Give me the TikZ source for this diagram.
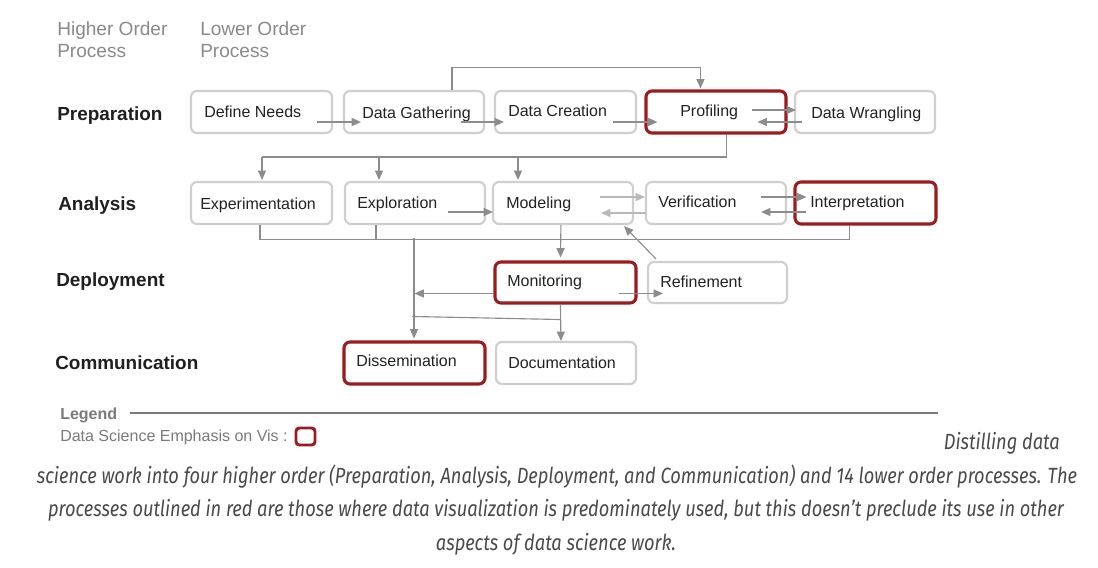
\documentclass[tikz,border=0pt]{standalone}
\usepackage{fontspec}
\setmainfont{Liberation Sans}
\newfontfamily\capfont[FakeStretch=0.83]{Fira Sans}
\usetikzlibrary{arrows.meta,calc,fit}
\definecolor{boxgray}{HTML}{CFCFCF}
\definecolor{emred}{HTML}{9B1B1E}
\definecolor{arrgray}{HTML}{8C8C8C}
\definecolor{arrlight}{HTML}{B8B8B8}
\definecolor{txt}{HTML}{222222}
\definecolor{hdrgray}{HTML}{8A8A8A}
\definecolor{leggray}{HTML}{7A7A7A}
\definecolor{captxt}{HTML}{4A4A4A}
\tikzset{
  gbox/.style={draw=boxgray, line width=1.6pt, rounded corners=4.5pt, inner sep=0pt},
  rbox/.style={draw=emred, line width=2.3pt, rounded corners=4.5pt, inner sep=0pt},
  lbl/.style={inner sep=0pt, text=txt, font=\fontsize{12}{14}\selectfont, anchor=base west},
  hdr/.style={inner sep=0pt, text=black!88, font=\fontsize{14.2}{17}\selectfont\bfseries, anchor=base west},
  toplbl/.style={inner sep=0pt, text=hdrgray, font=\fontsize{14.3}{17}\selectfont, anchor=base west},
  conn/.style={draw=arrgray, line width=0.85pt},
  arr/.style={conn, -{Triangle[length=7pt,width=6pt]}},
  arrl/.style={draw=arrlight, line width=0.85pt, -{Triangle[length=7pt,width=6pt]}},
  capline/.style={inner sep=0pt, text=captxt, font=\capfont\itshape\fontsize{16.5}{19}\selectfont},
}
\begin{document}
\begin{tikzpicture}[x=0.75pt,y=-0.75pt]
\useasboundingbox[fill=white] (0,0) rectangle (1098,567);

% column headers
\node[toplbl] (hh1) at (57,36) {Higher Order};
\node[toplbl] (hh2) at (57,58) {Process};
\node[toplbl] (lh1) at (200,36) {Lower Order};
\node[toplbl] (lh2) at (200,58) {Process};

% higher order labels
\node[hdr] (hprep) at (57,120) {Preparation};
\node[hdr] (hana) at (58,210) {Analysis};
\node[hdr] (hdep) at (56,286) {Deployment};
\node[hdr] (hcom) at (55,369) {Communication};

% boxes: row 1
\node[gbox, fit={(191,91)(332,133)}] (dn) {};
\node[gbox, fit={(344,91)(484,133)}] (dg) {};
\node[gbox, fit={(495,91)(636,133)}] (dc) {};
\node[rbox, fit={(646,91)(786,133)}] (pr) {};
\node[gbox, fit={(795,91)(935,133)}] (dw) {};
% row 2
\node[gbox, fit={(191,182)(332,224)}] (ex) {};
\node[gbox, fit={(345,182)(485,224)}] (xp) {};
\node[gbox, fit={(493,182)(633,224)}] (mo) {};
\node[gbox, fit={(646,182)(786,224)}] (ve) {};
\node[rbox, fit={(795,182)(936,224)}] (ip) {};
% row 3
\node[rbox, fit={(495,262)(636,303)}] (mn) {};
\node[gbox, fit={(648,262)(787,303)}] (rf) {};
% row 4
\node[rbox, fit={(344,342)(485,384)}] (ds) {};
\node[gbox, fit={(496,342)(636,384)}] (dm) {};

% box labels
\node[lbl] (dnl) at (204,117) {Define Needs};
\node[lbl] (dgl) at (362,118) {Data Gathering};
\node[lbl] (dcl) at (508,116) {Data Creation};
\node[lbl] (prl) at (680,116) {Profiling};
\node[lbl] (dwl) at (811,118) {Data Wrangling};
\node[lbl] (exl) at (200,209) {Experimentation};
\node[lbl] (xpl) at (357,208) {Exploration};
\node[lbl] (mol) at (506,208) {Modeling};
\node[lbl] (vel) at (658,207) {Verification};
\node[lbl] (ipl) at (810,207) {Interpretation};
\node[lbl] (mnl) at (507,286) {Monitoring};
\node[lbl] (rfl) at (660,287) {Refinement};
\node[lbl] (dsl) at (356,366) {Dissemination};
\node[lbl] (dml) at (508,368) {Documentation};

% preparation row connectors
\draw[arr] ($(dn.east)+(-16,10)$) -- ($(dg.west)+(18,10)$);
\draw[arr] ($(dg.east)+(-24,10)$) -- ($(dc.west)+(10,10)$);
\draw[arr] ($(dc.east)+(-24,10)$) -- ($(pr.west)+(13,10)$);
\draw[arr] ($(pr.east)+(-36,-2)$) -- ($(dw.west)+(2,-2)$);
\draw[arr] ($(dw.west)+(8,10)$) -- ($(pr.east)+(-30,10)$);
\draw[arr] ($(dg.north west)+(109,0)$) |- ($(pr.north west)+(56,-22)$) -- ($(pr.north west)+(56,-1)$);

% preparation -> analysis bus
\coordinate (j1) at (262,157);
\coordinate (j2) at (379,157);
\coordinate (j3) at (518,157);
\draw[conn] ($(pr.south west)+(82,0)$) |- (j1);
\draw[arr] (j1) -- ($(j1 |- ex.north)+(0,-1)$);
\draw[arr] (j2) -- ($(j2 |- xp.north)+(0,-1)$);
\draw[arr] (j3) -- ($(j3 |- mo.north)+(0,-1)$);

% analysis row connectors
\draw[arr] ($(xp.east)+(-38,9)$) -- ($(mo.west)+(1,9)$);
\draw[arrl] ($(mo.east)+(-34,-6)$) -- ($(ve.west)+(0,-6)$);
\draw[arrl] ($(ve.west)+(1,10)$) -- ($(mo.east)+(-33,10)$);
\draw[arr] ($(ve.east)+(-26,-6)$) -- ($(ip.west)+(13,-6)$);
\draw[arr] ($(ip.west)+(13,9)$) -- ($(ve.east)+(-26,9)$);

% analysis bus
\draw[conn] ($(ex.south west)+(70,0)$) |- ($(ip.south west)+(56,14)$) -- ($(ip.south west)+(56,0)$);
\draw[conn] ($(xp.south west)+(32,0)$) -- ($(xp.south west)+(32,14)$);
\coordinate (j4) at (414,238);
\draw[arr] (j4) -- ($(j4 |- ds.north)+(0,-2)$);
\draw[arr] ($(mo.south west)+(69,0)$) -- ($(mn.north west)+(67,-3)$);

% deployment connectors
\draw[arr] ($(mn.west)+(0,11)$) -- ($(mn.west)+(-79,11)$);
\draw[arr] ($(mn.east)+(-19,11)$) -- ($(rf.west)+(16,11)$);
\draw[arr] ($(rf.north west)+(9,-2)$) -- ($(mo.south east)+(-10,1)$);
\draw[conn] ($(ds.north west)+(70,-24)$) -- ($(mn.south west)+(67,15)$);
\draw[arr] ($(mn.south west)+(67,0)$) -- ($(dm.north west)+(66,0)$);

% legend
\node[inner sep=0pt, anchor=base west, text=leggray, font=\fontsize{12}{14}\selectfont\bfseries] (lg) at (60,419) {Legend};
\coordinate (lgend) at (938,413);
\draw[draw=leggray, line width=1.5pt] (130,413) -- (lgend);
\node[inner sep=0pt, anchor=base west, text=leggray, font=\fontsize{12}{14}\selectfont] (lgt) at (60,441) {Data Science Emphasis on Vis :};
\node[draw=emred, line width=2.2pt, rounded corners=2.5pt, fit={(296,428)(315,445)}, inner sep=0pt] (lgbox) {};

% caption
\node[capline, anchor=base east] (c1) at (1060,449) {Distilling data};
\node[capline, anchor=base] (c2) at (557,483) {science work into four higher order (Preparation, Analysis, Deployment, and Communication) and 14 lower order processes. The};
\node[capline, anchor=base] (c3) at (556,516) {processes outlined in red are those where data visualization is predominately used, but this doesn’t preclude its use in other};
\node[capline, anchor=base] (c4) at (556,550) {aspects of data science work.};
\end{tikzpicture}
\end{document}
